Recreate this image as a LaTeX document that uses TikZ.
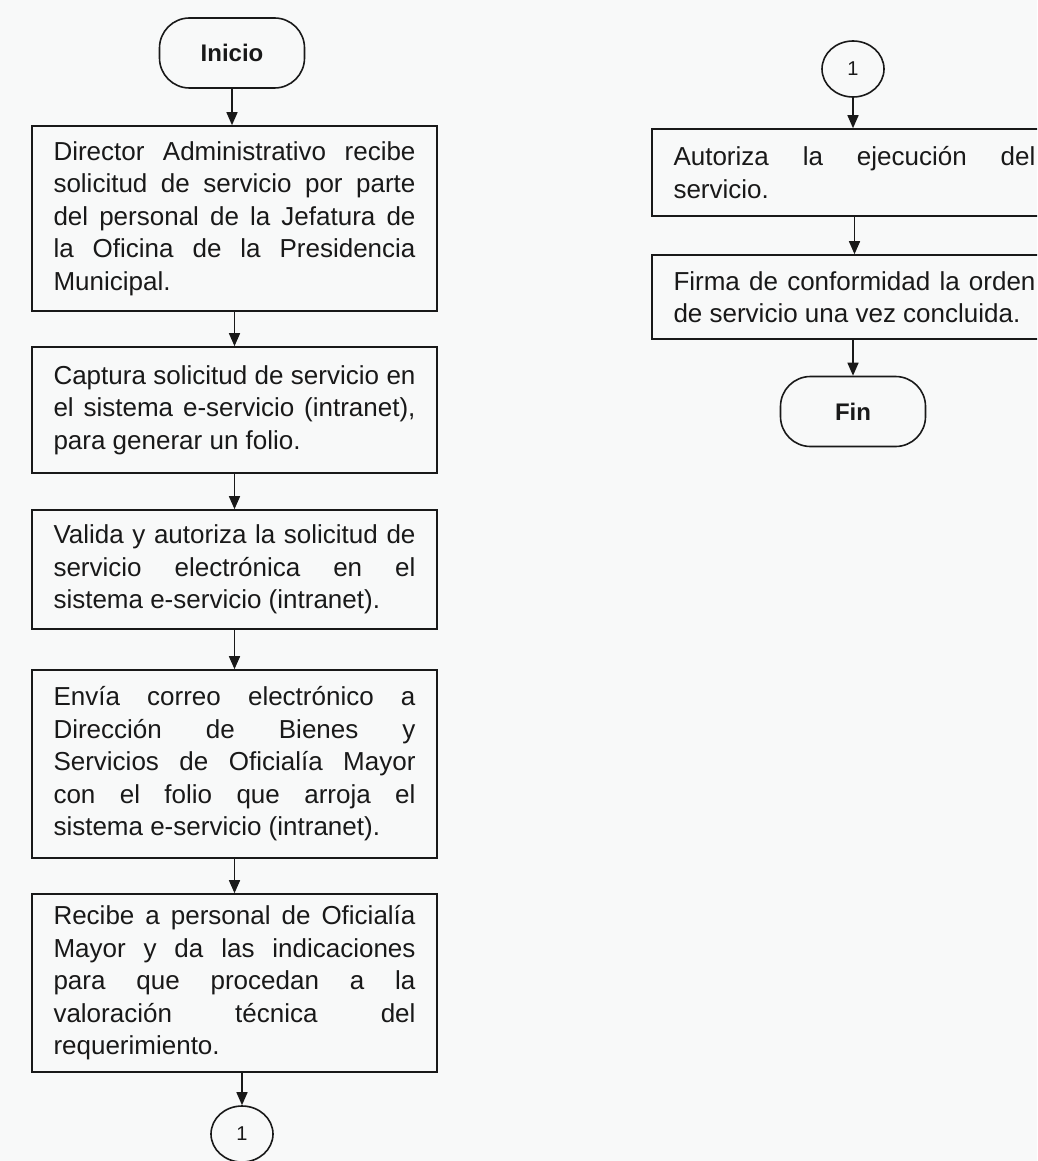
\documentclass[tikz,border=0pt]{standalone}
\usepackage{fontspec}
\setmainfont{Liberation Sans}
\usetikzlibrary{arrows.meta,shapes.geometric}
\definecolor{paper}{RGB}{248,249,249}
\definecolor{ink}{RGB}{25,25,25}
\tolerance=10000
\hbadness=10000
\hyphenpenalty=10000
\exhyphenpenalty=10000
\begin{document}
\begin{tikzpicture}[x=1pt,y=-1pt,
  proc/.style={draw=ink, line width=1.6pt, rectangle, minimum width=405pt,
    text width=362pt, inner xsep=0pt, inner ysep=0pt, align=justify,
    font=\fontsize{26}{32.5}\selectfont, text=ink},
  term/.style={draw=ink, line width=1.6pt, rectangle, rounded corners=30pt,
    minimum width=145pt, minimum height=70pt,
    font=\fontsize{24}{28}\selectfont\bfseries, text=ink},
  conn/.style={draw=ink, line width=1.6pt, ellipse, minimum width=62pt,
    minimum height=56pt, inner sep=0pt, font=\fontsize{20}{24}\selectfont, text=ink},
  flow/.style={draw=ink, line width=1.5pt, -{Triangle[width=11pt,length=13pt]}}]
\useasboundingbox (0,0) rectangle (1037,1161);
\fill[paper] (0,0) rectangle (1037,1161);
\clip (0,0) rectangle (1037,1161);

\node[term] (ini) at (232,53) {Inicio};
\node[proc, minimum height=185pt] (b1) at (234.5,218.5) {Director Administrativo recibe\linebreak
solicitud de servicio por parte\linebreak
del personal de la Jefatura de\linebreak
la Oficina de la Presidencia\linebreak
Municipal.};
\node[proc, minimum height=126pt] (b2) at (234.5,410) {Captura solicitud de servicio en\linebreak
el sistema e-servicio (intranet),\linebreak
para generar un folio.};
\node[proc, minimum height=119pt] (b3) at (234.5,569.5) {Valida y autoriza la solicitud de\linebreak
servicio electrónica en el\linebreak
sistema e-servicio (intranet).};
\node[proc, minimum height=188pt] (b4) at (234.5,764) {Envía correo electrónico a\linebreak
Dirección de Bienes y\linebreak
Servicios de Oficialía Mayor\linebreak
con el folio que arroja el\linebreak
sistema e-servicio (intranet).};
\node[proc, minimum height=178pt] (b5) at (234.5,983) {Recibe a personal de Oficialía\linebreak
Mayor y da las indicaciones\linebreak
para que procedan a la\linebreak
valoración técnica del\linebreak
requerimiento.};
\node[conn] (c1) at (242,1134) {1};

\node[conn] (c2) at (853,69) {1};
\node[proc, minimum height=87pt] (r1) at (854.5,172.5) {Autoriza la ejecución del\linebreak
servicio.};
\node[proc, minimum height=84pt] (r2) at (854.5,297) {Firma de conformidad la orden\linebreak
de servicio una vez concluida.};
\node[term] (fin) at (853,411.5) {Fin};

\draw[flow] (ini.south) -- (ini.south |- b1.north);
\draw[flow] (b1) -- (b2);
\draw[flow] (b2) -- (b3);
\draw[flow] (b3) -- (b4);
\draw[flow] (b4) -- (b5);
\draw[flow] (c1.north |- b5.south) -- (c1.north);
\draw[flow] (c2.south) -- (c2.south |- r1.north);
\draw[flow] (r1) -- (r2);
\draw[flow] (fin.north |- r2.south) -- (fin.north);
\end{tikzpicture}
\end{document}
